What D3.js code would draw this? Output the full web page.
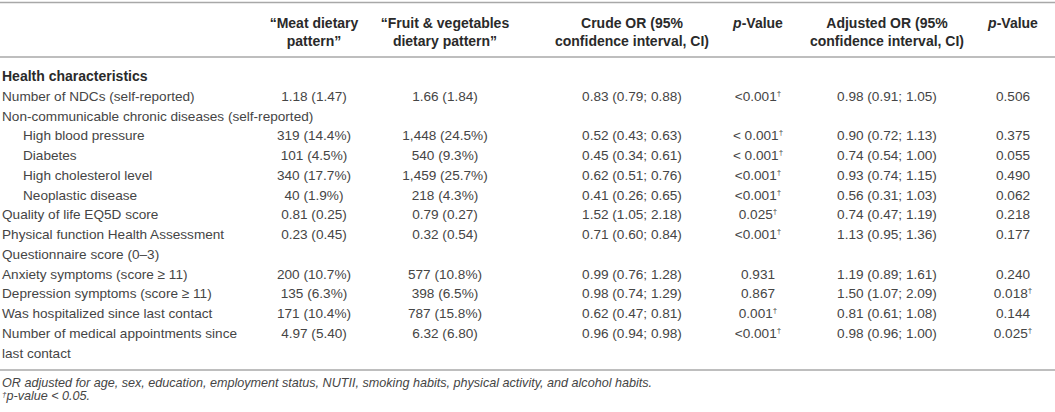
<!DOCTYPE html>
<html>
<head>
<meta charset="utf-8">
<script src="https://cdn.jsdelivr.net/npm/d3@7"></script>
<style>
  html, body { margin: 0; padding: 0; background: #fff; }
  svg text { font-family: "Liberation Sans", Arial, sans-serif; fill: #454545; }
  svg text.bold { fill: #2a2a2a; }
</style>
</head>
<body>
<svg id="chart" width="1055" height="412"></svg>
<script>
// table content
const rowLabels = [
  ["Number of NDCs (self-reported)"],
  ["Non-communicable chronic diseases (self-reported)"],
  ["High blood pressure"],
  ["Diabetes"],
  ["High cholesterol level"],
  ["Neoplastic disease"],
  ["Quality of life EQ5D score"],
  ["Physical function Health Assessment", "Questionnaire score (0–3)"],
  ["Anxiety symptoms (score ≥ 11)"],
  ["Depression symptoms (score ≥ 11)"],
  ["Was hospitalized since last contact"],
  ["Number of medical appointments since", "last contact"]
];
const indented = [false, false, true, true, true, true, false, false, false, false, false, false];

const meat = ["1.18 (1.47)", "", "319 (14.4%)", "101 (4.5%)", "340 (17.7%)", "40 (1.9%)", "0.81 (0.25)",
  "0.23 (0.45)", "200 (10.7%)", "135 (6.3%)", "171 (10.4%)", "4.97 (5.40)"];
const fruit = ["1.66 (1.84)", "", "1,448 (24.5%)", "540 (9.3%)", "1,459 (25.7%)", "218 (4.3%)", "0.79 (0.27)",
  "0.32 (0.54)", "577 (10.8%)", "398 (6.5%)", "787 (15.8%)", "6.32 (6.80)"];
const crudeOR = ["0.83 (0.79; 0.88)", "", "0.52 (0.43; 0.63)", "0.45 (0.34; 0.61)", "0.62 (0.51; 0.76)",
  "0.41 (0.26; 0.65)", "1.52 (1.05; 2.18)", "0.71 (0.60; 0.84)", "0.99 (0.76; 1.28)", "0.98 (0.74; 1.29)",
  "0.62 (0.47; 0.81)", "0.96 (0.94; 0.98)"];
const crudeP = ["<0.001†", "", "< 0.001†", "< 0.001†", "<0.001†", "<0.001†", "0.025†", "<0.001†",
  "0.931", "0.867", "0.001†", "<0.001†"];
const adjOR = ["0.98 (0.91; 1.05)", "", "0.90 (0.72; 1.13)", "0.74 (0.54; 1.00)", "0.93 (0.74; 1.15)",
  "0.56 (0.31; 1.03)", "0.74 (0.47; 1.19)", "1.13 (0.95; 1.36)", "1.19 (0.89; 1.61)", "1.50 (1.07; 2.09)",
  "0.81 (0.61; 1.08)", "0.98 (0.96; 1.00)"];
const adjP = ["0.506", "", "0.375", "0.055", "0.490", "0.062", "0.218", "0.177", "0.240", "0.018†",
  "0.144", "0.025†"];

const columnKeys = ["meat", "fruit", "crudeOR", "crudeP", "adjOR", "adjP"];
const columnHeads = [
  ["“Meat dietary", "pattern”"],
  ["“Fruit & vegetables", "dietary pattern”"],
  ["Crude OR (95%", "confidence interval, CI)"],
  ["p-Value"],
  ["Adjusted OR (95%", "confidence interval, CI)"],
  ["p-Value"]
];
const sectionTitle = "Health characteristics";
const footnotes = [
  "OR adjusted for age, sex, education, employment status, NUTII, smoking habits, physical activity, and alcohol habits.",
  "†p-value < 0.05."
];

const columns = [meat, fruit, crudeOR, crudeP, adjOR, adjP];

const width = 1055;
const bodySize = "13.6px";
const headSize = "14px";
const svg = d3.select("#chart");

// x: column centres, y: text line index -> vertical centre
const x = d3.scaleOrdinal()
  .domain(columnKeys)
  .range([314, 445, 632, 758, 887, 1013]);

const y = d3.scaleLinear()
  .domain([0, 1])
  .range([96, 115.75]);

// line index where each row starts (wrapped labels take two lines)
let lineStart = [];
let acc = 0;
rowLabels.forEach(l => { lineStart.push(acc); acc += l.length; });

// text with superscript dagger
const addText = (sel, str) => {
  let parts = str.split("†");
  sel.append("tspan").text(parts[0]);
  if (parts.length > 1) {
    sel.append("tspan")
      .attr("font-size", "8px")
      .attr("dy", "-5")
      .text("†");
  }
};

// horizontal rules: top, under header, above footnotes
const rules = [2.5, 57, 370];
svg.append("g")
  .selectAll("line")
  .data(rules)
  .enter()
  .append("line")
  .attr("x1", 0)
  .attr("x2", width)
  .attr("y1", d => d)
  .attr("y2", d => d)
  .attr("stroke", "#a8a8a8")
  .attr("stroke-width", 1.6);

// column headers
let head = svg.append("g")
  .selectAll("text")
  .data(columnHeads)
  .enter()
  .append("text")
  .attr("class", "bold")
  .attr("text-anchor", "middle")
  .attr("font-size", headSize)
  .attr("font-weight", "bold")
  .attr("x", (d, i) => x(columnKeys[i]))
  .attr("y", 23);

head.each(function (d) {
  let t = d3.select(this);
  d.forEach((line, j) => {
    let ts = t.append("tspan")
      .attr("x", t.attr("x"))
      .attr("dy", j === 0 ? "0.35em" : "18.5");
    if (line.startsWith("p-")) {
      ts.append("tspan").attr("font-style", "italic").text("p");
      ts.append("tspan").text(line.slice(1));
    } else {
      ts.text(line);
    }
  });
});

// section title
svg.append("text")
  .attr("class", "bold")
  .attr("x", 2)
  .attr("y", y(-1))
  .attr("dy", "0.35em")
  .attr("font-size", headSize)
  .attr("font-weight", "bold")
  .text(sectionTitle);

// row labels
svg.append("g")
  .selectAll("text")
  .data(rowLabels)
  .enter()
  .append("text")
  .attr("font-size", bodySize)
  .each(function (d, i) {
    let t = d3.select(this);
    d.forEach((line, j) => {
      t.append("tspan")
        .attr("x", indented[i] ? 23 : 2)
        .attr("y", y(lineStart[i] + j))
        .attr("dy", "0.35em")
        .text(line);
    });
  });

// cells
columns.forEach((col, c) => {
  svg.append("g")
    .selectAll("text")
    .data(col)
    .enter()
    .append("text")
    .attr("text-anchor", "middle")
    .attr("font-size", bodySize)
    .attr("x", x(columnKeys[c]))
    .attr("y", (d, i) => y(lineStart[i]))
    .attr("dy", "0.35em")
    .each(function (d) { addText(d3.select(this), d); });
});

// footnotes
let foot = svg.append("g")
  .selectAll("text")
  .data(footnotes)
  .enter()
  .append("text")
  .attr("x", 2)
  .attr("y", (d, i) => 383 + i * 17)
  .attr("dy", "0.35em")
  .attr("font-size", "12.6px")
  .attr("font-style", "italic");

foot.each(function (d) {
  let t = d3.select(this);
  if (d.startsWith("†")) {
    t.append("tspan").attr("font-size", "8px").attr("dy", "-3").text("†");
    t.append("tspan").attr("dy", "3").text(d.slice(1));
  } else {
    t.text(d);
  }
});
</script>
</body>
</html>
